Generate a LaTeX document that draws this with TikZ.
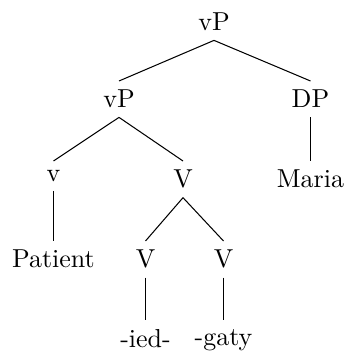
\documentclass[tikz,border=0pt]{standalone}
\begin{document}
\begin{tikzpicture}[x=0.385pt,y=-0.385pt,
  tn/.style={anchor=north, inner sep=0.3333em},
  edge/.style={draw, line width=0.4pt}]
\useasboundingbox (0,0) rectangle (345,352);
% level 0
\node[tn] (vp0) at (214,4) {vP};
% level 1
\node[tn] (vp1) at (119,81) {vP};
\node[tn] (dp) at (310.5,81) {DP};
% level 2
\node[tn] (v) at (53.5,161) {v};
\node[tn] (V1) at (183,161) {V};
\node[tn] (maria) at (310.5,161) {Maria};
% level 3
\node[tn] (patient) at (53.5,241) {Patient};
\node[tn] (V2) at (145.5,241) {V};
\node[tn] (V3) at (223.5,241) {V};
% level 4
\node[tn] (ied) at (145.5,320) {-ied-};
\node[tn] (gaty) at (223.5,320) {-gaty};
% branches
\path[edge] (vp0.south) -- (vp1.north);
\path[edge] (vp0.south) -- (dp.north);
\path[edge] (vp1.south) -- (v.north);
\path[edge] (vp1.south) -- (V1.north);
\path[edge] (dp.south) -- (maria.north);
\path[edge] (v.south) -- (patient.north);
\path[edge] (V1.south) -- (V2.north);
\path[edge] (V1.south) -- (V3.north);
\path[edge] (V2.south) -- (ied.north);
\path[edge] (V3.south) -- (gaty.north);
\end{tikzpicture}
\end{document}
